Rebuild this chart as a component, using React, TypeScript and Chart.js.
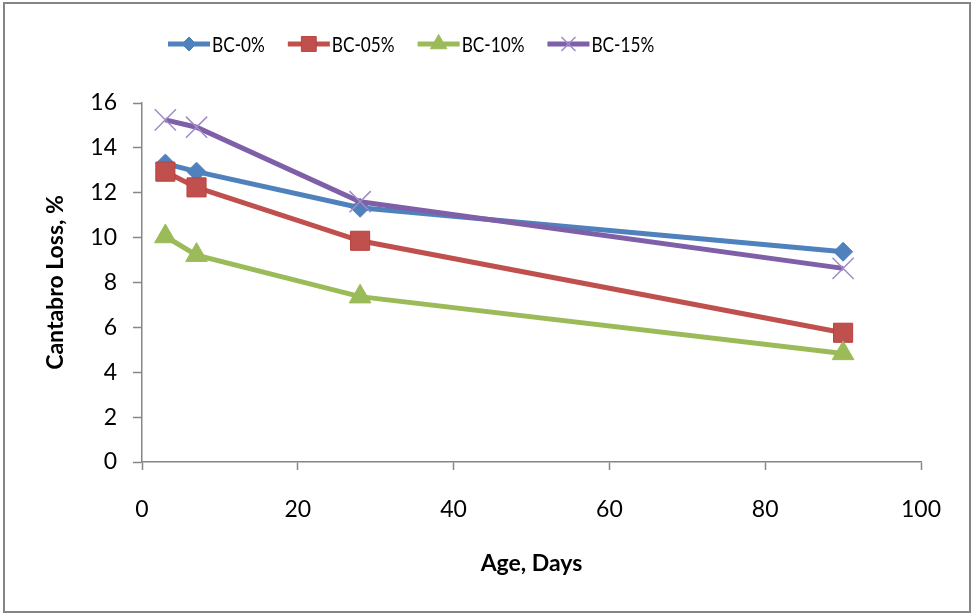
import { useEffect, useRef } from "react";
import { Chart, registerables } from "chart.js";
import { drawPoint } from "chart.js/helpers";

Chart.register(...registerables);

// ---- Data ----
const ageDays = [3, 7, 28, 90];
const seriesLabels = ["BC-0%", "BC-05%", "BC-10%", "BC-15%"];
const bc0 = [13.3, 12.94, 11.33, 9.37];
const bc05 = [12.94, 12.24, 9.86, 5.76];
const bc10 = [10.05, 9.22, 7.37, 4.84];
const bc15 = [15.25, 14.92, 11.6, 8.63];
const seriesValues = [bc0, bc05, bc10, bc15];

const xMin = 0;
const xMax = 100;
const xStep = 20;
const yMin = 0;
const yMax = 16;
const yStep = 2;

const xTitle = "Age, Days";
const yTitle = "Cantabro Loss, %";

// ---- Styles ----
const lineColors = ["#4F81BD", "#C0504D", "#9BBB59", "#7E5FA8"];
const markerFill = ["#4F81BD", "#C0504D", "#9BBB59", "rgba(0,0,0,0)"];
const markerBorder = ["#4F81BD", "#B9413E", "#9BBB59", "#A08BC6"];
const markerStyles = ["rectRot", "rect", "triangle", "crossRot"];
const markerRadius = [9.5, 13.5, 12.5, 15];
const legendMarkerRadius = [7, 10.5, 9.5, 10];
const markerBorderWidth = [1, 1, 1, 1.5];
const FONT = "Lato, 'Liberation Sans', sans-serif";
const axisGray = "#868686";

const legendPlugin = {
  id: "excelLegend",
  afterDraw(chart: any) {
    const ctx = chart.ctx;
    ctx.save();
    ctx.font = `21px ${FONT}`;
    ctx.textBaseline = "middle";
    ctx.textAlign = "left";
    const squeeze = 0.82;
    let x = 168;
    const y = 44;
    chart.data.datasets.forEach((ds: any, i: number) => {
      ctx.strokeStyle = ds.borderColor;
      ctx.lineWidth = 5;
      ctx.lineCap = "butt";
      ctx.beginPath();
      ctx.moveTo(x, y);
      ctx.lineTo(x + 42, y);
      ctx.stroke();
      ctx.fillStyle = markerFill[i];
      ctx.strokeStyle = markerBorder[i];
      ctx.lineWidth = markerBorderWidth[i];
      drawPoint(ctx, { pointStyle: markerStyles[i], rotation: 0, radius: legendMarkerRadius[i], borderWidth: markerBorderWidth[i] } as any, x + 21, y);
      ctx.fillStyle = "#000";
      const tx = x + 44;
      ctx.save();
      ctx.translate(tx, y + 1);
      ctx.scale(squeeze, 1);
      ctx.fillText(ds.label, 0, 0);
      ctx.restore();
      x += 44 + ctx.measureText(ds.label).width * squeeze + 23;
    });
    ctx.restore();
  },
};

export default function App() {
  const canvasRef = useRef<HTMLCanvasElement | null>(null);

  useEffect(() => {
    if (!canvasRef.current) return;
    const datasets = seriesLabels.map((label, i) => ({
      label,
      data: ageDays.map((d, j) => ({ x: d, y: seriesValues[i][j] })),
      borderColor: lineColors[i],
      backgroundColor: lineColors[i],
      borderWidth: 5,
      pointStyle: markerStyles[i] as any,
      pointRadius: markerRadius[i],
      pointBackgroundColor: markerFill[i],
      pointBorderColor: markerBorder[i],
      pointBorderWidth: markerBorderWidth[i],
      tension: 0,
      fill: false,
      order: seriesLabels.length - 1 - i,
    }));

    const chart = new Chart(canvasRef.current, {
      type: "line",
      data: { datasets },
      plugins: [legendPlugin],
      options: {
        animation: false,
        responsive: false,
        layout: { padding: { left: 38, right: 54, top: 103, bottom: 0 } },
        plugins: {
          legend: { display: false },
          tooltip: { enabled: false },
        },
        scales: {
          x: {
            type: "linear",
            min: xMin,
            max: xMax,
            ticks: { stepSize: xStep, color: "#000", padding: 26, font: { family: FONT, size: 23 } },
            grid: { drawOnChartArea: false, drawTicks: true, tickLength: 8, color: axisGray, tickWidth: 1.5 },
            border: { display: true, color: axisGray, width: 1.5 },
            title: {
              display: true,
              text: xTitle,
              color: "#000",
              font: { family: FONT, size: 23, weight: "bold" },
              padding: { top: 0, bottom: 39 },
            },
            afterFit: (scale: any) => {
              scale.height = 154;
            },
          },
          y: {
            type: "linear",
            min: yMin,
            max: yMax,
            ticks: { stepSize: yStep, color: "#000", padding: 16, font: { family: FONT, size: 23 } },
            grid: { drawOnChartArea: false, drawTicks: true, tickLength: 9, color: axisGray, tickWidth: 1.5 },
            border: { display: true, color: axisGray, width: 1.5 },
            title: {
              display: true,
              text: yTitle,
              color: "#000",
              font: { family: FONT, size: 23, weight: "bold" },
              padding: { top: 4, bottom: 0 },
            },
            afterFit: (scale: any) => {
              scale.width = 104;
            },
          },
        },
      },
    });
    return () => chart.destroy();
  }, []);

  return (
    <div style={{ position: "absolute", left: 0, top: 0, width: 975, height: 616, background: "#fff" }}>
      <canvas ref={canvasRef} width={975} height={616} style={{ display: "block" }} />
      <div
        style={{
          position: "absolute",
          left: 3,
          top: 2,
          width: 968,
          height: 611,
          boxSizing: "border-box",
          border: "2px solid #858585",
          pointerEvents: "none",
        }}
      />
    </div>
  );
}
